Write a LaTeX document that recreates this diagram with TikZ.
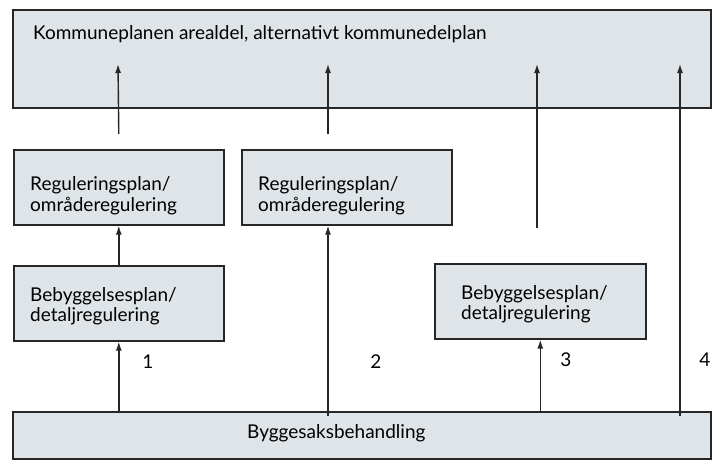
\documentclass[tikz,border=0pt]{standalone}
\usepackage{fontspec}
\setmainfont{Lato}
\usetikzlibrary{arrows.meta, positioning}
\definecolor{boxfill}{RGB}{222,228,231}

\begin{document}
\begin{tikzpicture}[x=1pt, y=-1pt,
      blk/.style={draw=black!85, line width=1.6pt, fill=boxfill, inner sep=0pt},
      plan/.style={blk, minimum width=210pt, minimum height=75pt, anchor=north west},
      txt/.style={font=\fontsize{19}{20.5}\selectfont, inner sep=0pt, align=left, anchor=north west},
      num/.style={font=\fontsize{19}{20}\selectfont, inner sep=0pt},
      arr/.style={-{Latex[length=9pt, width=6pt]}, line width=1.4pt, black!85}]

    \useasboundingbox[fill=white] (0,0) rectangle (713,461);

    % ============================================
    % Kommuneplan (top) and Byggesak (bottom)
    % ============================================
    \node[blk, anchor=north west, minimum width=698pt, minimum height=98pt] (kp) at (12,9) {};
    \node[txt, anchor=base west] (kptxt) at (33,39) {Kommuneplanen arealdel, alternativt kommunedelplan};

    \node[blk, anchor=north west, minimum width=698pt, minimum height=47pt] (byg) at (12,411) {};
    \node[txt, anchor=base west] (bygtxt) at (247,438) {Byggesaksbehandling};

    % ============================================
    % Plan levels
    % ============================================
    \node[plan] (reg1) at (13,149) {};
    \node[txt] (reg1txt) at (30,176.5) {Reguleringsplan/\\områderegulering};

    \node[plan] (reg2) at (241,149) {};
    \node[txt] (reg2txt) at (258,176.5) {Reguleringsplan/\\områderegulering};

    \node[plan] (beb1) at (13,265) {};
    \node[txt] (beb1txt) at (30,287) {Bebyggelsesplan/\\detaljregulering};

    \node[plan, minimum width=211pt] (beb2) at (434,263) {};
    \node[txt] (beb2txt) at (461,285) {Bebyggelsesplan/\\detaljregulering};

    % arrow ends
    \coordinate (k1) at (118,64);
    \coordinate (k2) at (328,64);
    \coordinate (k3) at (537,64);
    \coordinate (k4) at (680,64);
    \coordinate (s3) at (537,228);

    % ============================================
    % Routes 1--4
    % ============================================
    \draw[arr] (byg.north -| beb1.south) -- (beb1.south);
    \draw[arr] (beb1.north) -- (reg1.south);
    \draw[arr] ([yshift=15pt]reg1.north) -- (k1);

    \draw[arr] ([yshift=-5pt]byg.north -| k2) -- (reg2.south -| k2);
    \draw[arr] ([yshift=15pt]reg2.north -| k2) -- (k2);

    \draw[arr] (byg.north -| beb2.south) -- (beb2.south);
    \draw[arr] (s3) -- (k3);

    \draw[arr] ([yshift=-5pt]byg.north -| k4) -- (k4);

    \node[num] (n1) at (148,362) {1};
    \node[num] (n2) at (376,362) {2};
    \node[num] (n3) at (566,360) {3};
    \node[num] (n4) at (705,360) {4};

\end{tikzpicture}
\end{document}
